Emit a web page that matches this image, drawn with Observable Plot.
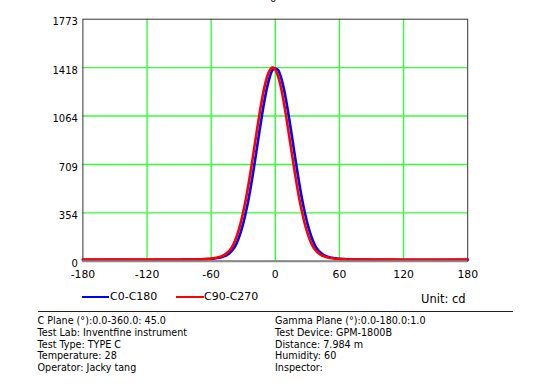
<!DOCTYPE html>
<html>
<head>
<meta charset="utf-8">
<script src="https://cdn.jsdelivr.net/npm/d3@7"></script>
<script src="https://cdn.jsdelivr.net/npm/@observablehq/plot@0.6"></script>
<style>
  html, body { margin: 0; padding: 0; background: #fff; }
  body { width: 550px; height: 391px; position: relative; overflow: hidden; font-family: "DejaVu Sans", Verdana, sans-serif; color: #000; }
  #chart { position: absolute; left: 0; top: 0; }
  .abs { position: absolute; white-space: nowrap; }
  .leg { font-size: 11px; line-height: 13px; }
  .info { font-size: 9.6px; line-height: 11.75px; }
  .sw { position: absolute; height: 2.5px; }
</style>
</head>
<body>
<div id="chart"></div>
<div class="abs" style="left:270px; top:-7px; font-size:10px;">0</div>
<div class="sw" style="left:82px; top:295.5px; width:27px; background:#0000ff;"></div>
<div class="abs leg" style="left:110px; top:290px;">C0-C180</div>
<div class="sw" style="left:175.5px; top:295.5px; width:28px; background:#ff0000;"></div>
<div class="abs leg" style="left:204px; top:290px;">C90-C270</div>
<div class="abs leg" style="left:421px; top:293px; font-size:11.5px;">Unit: cd</div>
<div class="abs" style="left:37.5px; top:311px; width:475px; height:1.2px; background:#222;"></div>
<div class="abs info" style="left:37.5px; top:315px;" id="infoL"></div>
<div class="abs info" style="left:275px; top:315px;" id="infoR"></div>
<script>
// Gamma angles (degrees)
const gamma = [-180, -150, -120, -100, -90, -80,
  -75, -72.5, -70, -67.5, -65, -62.5, -60, -57.5, -55, -52.5, -50, -47.5, -45, -42.5, -40,
  -37.5, -35, -32.5, -30, -27.5, -25, -22.5, -20, -17.5, -15, -12.5, -10, -7.5, -5, -2.5,
  0, 2.5, 5, 7.5, 10, 12.5, 15, 17.5, 20, 22.5, 25, 27.5, 30, 32.5, 35, 37.5, 40,
  42.5, 45, 47.5, 50, 52.5, 55, 57.5, 60, 62.5, 65, 67.5, 70, 72.5, 75,
  80, 90, 100, 120, 150, 180];

// C0-C180 intensity (cd)
const c0c180 = [10, 10, 10, 11, 11, 12,
  12, 13, 13, 14, 15, 16, 17, 19, 22, 25, 30, 37, 47, 62, 82,
  110, 153, 209, 277, 360, 456, 566, 686, 814, 943, 1068, 1183, 1281, 1355, 1402,
  1412, 1402, 1355, 1281, 1183, 1068, 943, 814, 686, 566, 456, 360, 277, 209, 153, 110, 82,
  62, 47, 37, 30, 26, 22, 20, 18, 16, 15, 14, 13, 13, 12,
  12, 11, 11, 10, 10, 10];

// C90-C270 intensity (cd)
const c90c270 = [12, 12, 12, 12, 12, 12,
  13, 13, 14, 15, 16, 17, 19, 22, 25, 30, 37, 47, 62, 82, 110,
  153, 209, 277, 360, 456, 566, 686, 814, 943, 1068, 1183, 1281, 1355, 1402, 1420,
  1404, 1357, 1283, 1185, 1068, 943, 814, 686, 566, 456, 360, 277, 209, 153, 110, 82, 62,
  47, 37, 30, 25, 22, 19, 17, 16, 15, 14, 13, 13, 12, 12,
  12, 12, 12, 11, 11, 12];

const xTicks = [-180, -120, -60, 0, 60, 120, 180];
const xGrid = [-120, -60, 0, 60, 120];
const yTicks = [0, 354, 709, 1064, 1418, 1773];
const yGrid = [354, 709, 1064, 1418];
const yMax = 1773;

const infoLeft = ["C Plane (°):0.0-360.0: 45.0", "Test Lab: Inventfine instrument", "Test Type: TYPE C", "Temperature: 28", "Operator: Jacky tang"];
const infoRight = ["Gamma Plane (°):0.0-180.0:1.0", "Test Device: GPM-1800B", "Distance: 7.984 m", "Humidity: 60", "Inspector:"];

const blue = gamma.map((g, i) => ({g, v: c0c180[i]}));
const red = gamma.map((g, i) => ({g, v: c90c270[i]}));

const green = "#33ff33";
const plain = d => String(d);
const plot = Plot.plot({
  width: 550,
  height: 290,
  marginLeft: 82.4,
  marginRight: 82.8,
  marginTop: 18.7,
  marginBottom: 29.3,
  style: {fontFamily: "DejaVu Sans, Verdana, sans-serif", fontSize: "10px", color: "#000", background: "transparent"},
  x: {domain: [-180, 180]},
  y: {domain: [0, yMax]},
  marks: [
    Plot.ruleX(xGrid, {stroke: green, strokeWidth: 1.4}),
    Plot.ruleY(yGrid, {stroke: green, strokeWidth: 1.4}),
    Plot.frame({stroke: "#333", strokeWidth: 1}),
    Plot.line(blue, {x: "g", y: "v", stroke: "#0000ff", strokeWidth: 2.6, curve: "monotone-x"}),
    Plot.line(red, {x: "g", y: "v", stroke: "#ff0000", strokeWidth: 2.6, curve: "monotone-x"}),
    Plot.ruleY([0], {stroke: "#888", strokeWidth: 2}),
    Plot.axisX(xTicks, {tickSize: 0, tickPadding: 9, label: null, fontSize: 10.8, tickFormat: plain}),
    Plot.axisY(yTicks, {tickSize: 0, tickPadding: 5, label: null, dy: 3, fontSize: 10, tickFormat: plain})
  ]
});
document.getElementById("chart").append(plot);
document.getElementById("infoL").innerHTML = infoLeft.join("<br>");
document.getElementById("infoR").innerHTML = infoRight.join("<br>");
</script>
</body>
</html>
